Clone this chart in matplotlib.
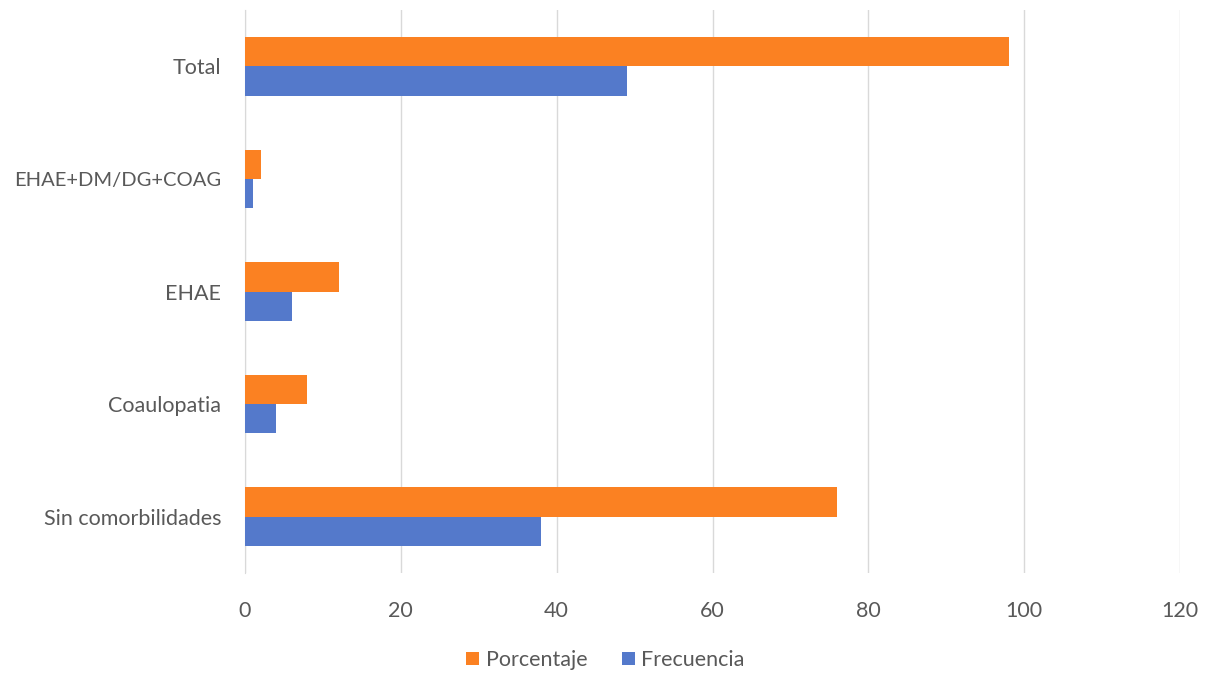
import numpy as np
import matplotlib.pyplot as plt

categorias = ["Sin comorbilidades", "Coaulopatia", "EHAE", "EHAE+DM/DG+COAG", "Total"]
porcentaje = [76, 8, 12, 2, 98]
frecuencia = [38, 4, 6, 1, 49]

plt.rcParams['font.family'] = ['Lato', 'DejaVu Sans']

fig = plt.figure(figsize=(12.11, 6.73), dpi=100)
ax = fig.add_axes([245 / 1211, 1 - 573 / 673, (1180 - 245) / 1211, (573 - 10) / 673])

y = np.arange(len(categorias))
h = 0.26
ax.barh(y + h / 2, porcentaje, height=h, color="#FB8122", label="Porcentaje", zorder=3)
ax.barh(y - h / 2, frecuencia, height=h, color="#5479CB", label="Frecuencia", zorder=3)

ax.set_xlim(0, 120)
ax.set_ylim(-0.5, len(categorias) - 0.5)
ax.set_xticks(range(0, 121, 20))
ax.set_yticks(y)
ax.set_yticklabels(categorias)
ax.grid(axis="x", color="#d9d9d9", linewidth=1, zorder=0)
for s in ["top", "right", "bottom"]:
    ax.spines[s].set_visible(False)
ax.spines["left"].set_color("#d9d9d9")
ax.tick_params(axis="both", length=0, labelsize=15.5, labelcolor="#595959")
ax.tick_params(axis="x", pad=20)
ax.tick_params(axis="y", pad=17)
ax.get_yticklabels()[3].set_fontsize(14.5)

fig.legend(loc="center", bbox_to_anchor=(0.5, 1 - 660 / 673), ncol=2, frameon=False,
           fontsize=15.5, labelcolor="#595959", handlelength=0.6, handleheight=0.6,
           handletextpad=0.3, columnspacing=1.6)

fig.savefig("out.png", dpi=100)
